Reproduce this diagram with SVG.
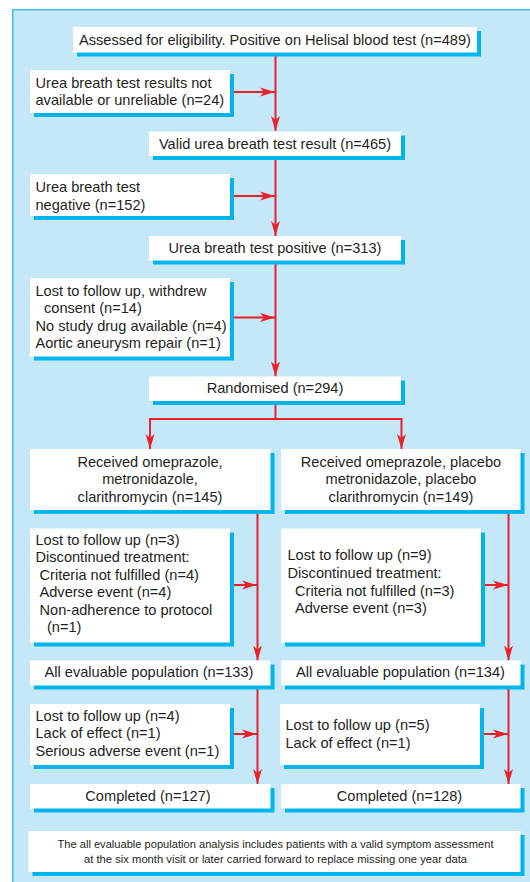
<svg xmlns="http://www.w3.org/2000/svg" width="530" height="882" viewBox="0 0 530 882">
<defs>
<style>
.sh{fill:#00b4ec}
.bx{fill:#ffffff}
text{font-family:"Liberation Sans",Arial,Helvetica,sans-serif;font-size:14.6px;fill:#231f20}
.c{text-anchor:middle}
.ft{font-size:11.5px}
.ln{stroke:#e8212b;stroke-width:2;fill:none}
</style>
<marker id="ah" markerUnits="userSpaceOnUse" markerWidth="16" markerHeight="10" refX="15" refY="5" orient="auto" viewBox="0 0 16 10">
<path d="M0,0.5 L15,5 L0,9.5 L4,5 Z" fill="#e8212b"/>
</marker>
</defs>
<rect x="12.75" y="9.75" width="600" height="900" fill="#c5e8f8" stroke="#3ec0ea" stroke-width="1.5"/>

<g id="connectors">
<path class="ln" d="M275.5,52.5 V131" marker-end="url(#ah)"/>
<path class="ln" d="M230,92 H275" marker-end="url(#ah)"/>
<path class="ln" d="M275.5,156 V236" marker-end="url(#ah)"/>
<path class="ln" d="M230,196 H275" marker-end="url(#ah)"/>
<path class="ln" d="M275.5,260.5 V376.5" marker-end="url(#ah)"/>
<path class="ln" d="M230,317.5 H275" marker-end="url(#ah)"/>
<path class="ln" d="M275.5,401 V419 M150,419 H401.5"/>
<path class="ln" d="M150,418 V449" marker-end="url(#ah)"/>
<path class="ln" d="M401.5,418 V449" marker-end="url(#ah)"/>
<path class="ln" d="M257.5,510 V660.5" marker-end="url(#ah)"/>
<path class="ln" d="M230,585 H257" marker-end="url(#ah)"/>
<path class="ln" d="M508.5,510 V660.5" marker-end="url(#ah)"/>
<path class="ln" d="M481,585 H508" marker-end="url(#ah)"/>
<path class="ln" d="M257.5,685.5 V784" marker-end="url(#ah)"/>
<path class="ln" d="M230,734 H257" marker-end="url(#ah)"/>
<path class="ln" d="M508.5,685.5 V784" marker-end="url(#ah)"/>
<path class="ln" d="M480,734 H508" marker-end="url(#ah)"/>
</g>

<g id="assessed">
<rect class="sh" x="77" y="31" width="404" height="25.5"/>
<rect class="bx" x="73" y="27" width="404" height="25.5"/>
<text class="c" x="275" y="44.5">Assessed for eligibility. Positive on Helisal blood test (n=489)</text>
</g>
<g id="ubt-unavailable">
<rect class="sh" x="34" y="74" width="200" height="43"/>
<rect class="bx" x="30" y="70" width="200" height="43"/>
<text x="35.5" y="87.5">Urea breath test results not</text>
<text x="35.5" y="105">available or unreliable (n=24)</text>
</g>
<g id="valid-ubt">
<rect class="sh" x="153" y="135.5" width="252" height="24.5"/>
<rect class="bx" x="149" y="131.5" width="252" height="24.5"/>
<text class="c" x="275" y="148.5">Valid urea breath test result (n=465)</text>
</g>
<g id="ubt-negative">
<rect class="sh" x="34" y="178" width="200" height="42"/>
<rect class="bx" x="30" y="174" width="200" height="42"/>
<text x="35.5" y="192">Urea breath test</text>
<text x="35.5" y="209.5">negative (n=152)</text>
</g>
<g id="ubt-positive">
<rect class="sh" x="153" y="240" width="252" height="24.5"/>
<rect class="bx" x="149" y="236" width="252" height="24.5"/>
<text class="c" x="275" y="252.5">Urea breath test positive (n=313)</text>
</g>
<g id="excluded-pre">
<rect class="sh" x="34" y="282" width="200" height="78.5"/>
<rect class="bx" x="30" y="278" width="200" height="78.5"/>
<text x="35.5" y="296">Lost to follow up, withdrew</text>
<text x="44" y="313">consent (n=14)</text>
<text x="35.5" y="330.5">No study drug available (n=4)</text>
<text x="35.5" y="348">Aortic aneurysm repair (n=1)</text>
</g>
<g id="randomised">
<rect class="sh" x="153" y="380.5" width="252" height="24.5"/>
<rect class="bx" x="149" y="376.5" width="252" height="24.5"/>
<text class="c" x="275" y="393">Randomised (n=294)</text>
</g>
<g id="arm-active">
<rect class="sh" x="34" y="453" width="240.5" height="61"/>
<rect class="bx" x="30" y="449" width="240.5" height="61"/>
<text class="c" x="150" y="466.5">Received omeprazole,</text>
<text class="c" x="150" y="484">metronidazole,</text>
<text class="c" x="150" y="501.5">clarithromycin (n=145)</text>
</g>
<g id="arm-placebo">
<rect class="sh" x="285" y="453" width="239.5" height="61"/>
<rect class="bx" x="281" y="449" width="239.5" height="61"/>
<text class="c" x="401" y="466.5">Received omeprazole, placebo</text>
<text class="c" x="401" y="484">metronidazole, placebo</text>
<text class="c" x="401" y="501.5">clarithromycin (n=149)</text>
</g>
<g id="withdrawn-active">
<rect class="sh" x="34" y="532.5" width="200" height="114"/>
<rect class="bx" x="30" y="528.5" width="200" height="114"/>
<text x="35.5" y="544.5">Lost to follow up (n=3)</text>
<text x="35.5" y="562">Discontinued treatment:</text>
<text x="39.5" y="579.5">Criteria not fulfilled (n=4)</text>
<text x="39.5" y="597">Adverse event (n=4)</text>
<text x="39.5" y="614.5">Non-adherence to protocol</text>
<text x="47" y="632">(n=1)</text>
</g>
<g id="withdrawn-placebo">
<rect class="sh" x="285" y="532.5" width="200" height="114"/>
<rect class="bx" x="281" y="528.5" width="200" height="114"/>
<text x="287.5" y="560">Lost to follow up (n=9)</text>
<text x="287.5" y="577.5">Discontinued treatment:</text>
<text x="295" y="595.5">Criteria not fulfilled (n=3)</text>
<text x="295" y="613">Adverse event (n=3)</text>
</g>
<g id="evaluable-active">
<rect class="sh" x="34" y="664.5" width="240.5" height="25"/>
<rect class="bx" x="30" y="660.5" width="240.5" height="25"/>
<text class="c" x="149" y="677">All evaluable population (n=133)</text>
</g>
<g id="evaluable-placebo">
<rect class="sh" x="285" y="664.5" width="239.5" height="25"/>
<rect class="bx" x="281" y="660.5" width="239.5" height="25"/>
<text class="c" x="400.5" y="677">All evaluable population (n=134)</text>
</g>
<g id="lost-active">
<rect class="sh" x="34" y="708" width="200" height="61"/>
<rect class="bx" x="30" y="704" width="200" height="61"/>
<text x="35.5" y="720.5">Lost to follow up (n=4)</text>
<text x="35.5" y="738">Lack of effect (n=1)</text>
<text x="35.5" y="755.5">Serious adverse event (n=1)</text>
</g>
<g id="lost-placebo">
<rect class="sh" x="284" y="708" width="200" height="61"/>
<rect class="bx" x="280" y="704" width="200" height="61"/>
<text x="285.5" y="730">Lost to follow up (n=5)</text>
<text x="285.5" y="747.5">Lack of effect (n=1)</text>
</g>
<g id="completed-active">
<rect class="sh" x="34" y="788" width="240.5" height="24.5"/>
<rect class="bx" x="30" y="784" width="240.5" height="24.5"/>
<text class="c" x="148" y="800.5">Completed (n=127)</text>
</g>
<g id="completed-placebo">
<rect class="sh" x="285" y="788" width="239.5" height="24.5"/>
<rect class="bx" x="281" y="784" width="239.5" height="24.5"/>
<text class="c" x="399.5" y="800.5">Completed (n=128)</text>
</g>
<g id="footnote">
<rect class="sh" x="32.5" y="835" width="492" height="41"/>
<rect class="bx" x="28.5" y="831" width="492" height="41"/>
<text class="c ft" x="275.5" y="847.5" textLength="436" lengthAdjust="spacingAndGlyphs">The all evaluable population analysis includes patients with a valid symptom assessment</text>
<text class="c ft" x="275.5" y="862.5" textLength="383" lengthAdjust="spacingAndGlyphs">at the six month visit or later carried forward to replace missing one year data</text>
</g>
</svg>
